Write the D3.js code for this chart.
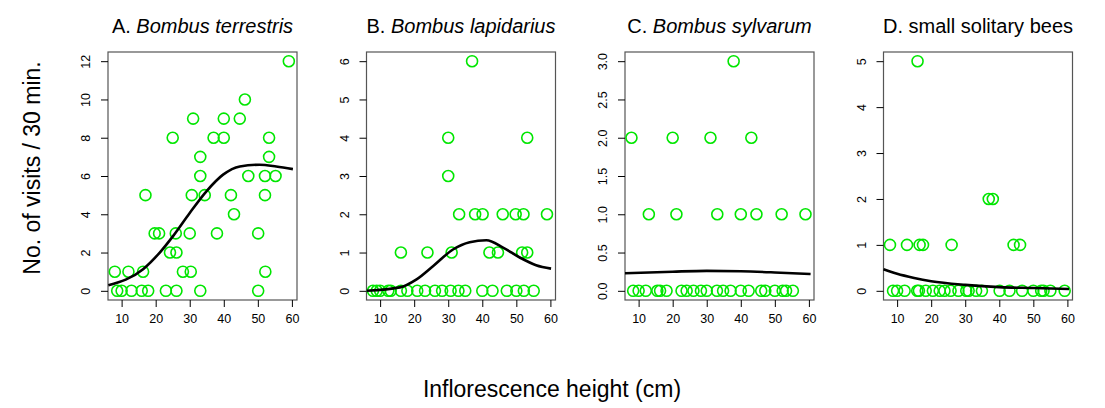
<!DOCTYPE html><html><head><meta charset="utf-8"><script src="https://cdn.jsdelivr.net/npm/d3@7"></script>
<style>body{margin:0;background:#fff}</style></head><body><svg id="c" width="1105" height="408"></svg>
<script>
const titles=[["A. ","Bombus terrestris"],["B. ","Bombus lapidarius"],["C. ","Bombus sylvarum"],["D. small solitary bees",""]];
const yMax=[12,6,3,5];
const yTicks=[[0,2,4,6,8,10,12],[0,1,2,3,4,5,6],[0,0.5,1,1.5,2,2.5,3],[0,1,2,3,4,5]];
const yFmt=["d","d",".1f","d"];
const xTicks=[10,20,30,40,50,60];
const aX=[8,12,16.3,28,30.3,52.2,8.7,10,12.9,15.9,17.8,23,26.1,33.1,50.1,17,19.7,21,24.2,26.1,25.9,30,25,30.6,31,33.1,33.1,34.4,37,38,40,40,42.1,43,44.7,46.2,47.2,50.1,52.1,52.1,53.3,53.3,55.2,59.1];
const aY=[1,1,1,1,1,1,0,0,0,0,0,0,0,0,0,5,3,3,2,2,3,3,8,5,9,7,6,5,8,3,8,9,5,4,9,10,6,3,5,6,7,8,6,12];
const bX=[7.9,9,10,12.4,13.1,16.1,18,20.9,23.2,26.1,28.2,30.7,33,35,40,43,47.2,50,52.2,55.1,16.1,23.9,31,42.1,44.6,51.7,53.2,33.2,37.9,40.1,46,49.8,52.1,59,30,30,53.2,37];
const bY=[0,0,0,0,0,0,0,0,0,0,0,0,0,0,0,0,0,0,0,0,1,1,1,1,1,1,1,2,2,2,2,2,2,2,3,4,4,6];
const cX=[8.4,10,12.1,15.5,16.3,18.2,22.6,24.1,26.1,28.3,30,33,34.8,37,40,42.3,46,47.2,50,52.3,53.3,55.3,13,21.1,33.1,40,44.6,52,59,7.9,20,31.1,43.1,37.9];
const cY=[0,0,0,0,0,0,0,0,0,0,0,0,0,0,0,0,0,0,0,0,0,0,1,1,1,1,1,1,1,2,2,2,2,3];
const dX=[8.8,10,12.2,15.9,16.4,18.4,20.5,22.5,23.9,25.7,28,30.3,31,33.2,34.9,40.1,43,46.7,50,52.3,53,55,59.2,7.9,12.9,16.6,17.6,26,44.2,46.1,36.9,38.1,16];
const dY=[0,0,0,0,0,0,0,0,0,0,0,0,0,0,0,0,0,0,0,0,0,0,0,1,1,1,1,1,1,1,2,2,5];
const aCx=[6.1,16.3,21.2,25.1,30,34.9,39.8,44.7,50.5,55.4,60.3],aCy=[0.29,1.13,2,2.86,4.07,5.2,6.07,6.5,6.59,6.5,6.36];
const bCx=[6.1,15.8,20.7,25.6,31.4,36.3,41.2,46.1,51,55.8,60.2],bCy=[0,0.09,0.3,0.65,1.08,1.27,1.32,1.13,0.87,0.67,0.58];
const cCx=[6,20,30,40,50,60.5],cCy=[0.23,0.25,0.26,0.255,0.24,0.22];
const dCx=[6,10,15,20,30,40,50,60.5],dCy=[0.47,0.37,0.28,0.21,0.13,0.08,0.06,0.04];
const P=[[aX,aY,aCx,aCy],[bX,bY,bCx,bCy],[cX,cY,cCx,cCy],[dX,dY,dCx,dCy]];
const svg=d3.select("#c");
const lefts=[108,366.5,625,883.5],W=189,pTop=52,pBot=300;
const ff="Liberation Sans, Arial, sans-serif";
P.forEach((p,i)=>{
 const g=svg.append("g");
 const x=d3.scaleLinear().domain([6,61.5]).range([lefts[i],lefts[i]+W]);
 const yr=yMax[i]*0.04;
 const y=d3.scaleLinear().domain([-yr,yMax[i]+yr]).range([pBot,pTop]);
 g.append("rect").attr("x",lefts[i]).attr("y",pTop).attr("width",W).attr("height",pBot-pTop).attr("fill","none").attr("stroke","#555").attr("stroke-width",1.2);
 const xa=g.append("g").attr("transform",`translate(0,${pBot})`).call(d3.axisBottom(x).tickValues(xTicks).tickSize(7).tickPadding(7));
 xa.select(".domain").remove();
 xa.selectAll("text").attr("font-family",ff).attr("font-size",12.5);
 const ya=g.append("g").attr("transform",`translate(${lefts[i]},0)`).call(d3.axisLeft(y).tickValues(yTicks[i]).tickSize(7).tickFormat(d3.format(yFmt[i])));
 ya.select(".domain").remove();
 ya.selectAll(".tick text").attr("x",null).attr("dy",null).attr("text-anchor","middle").attr("dominant-baseline","central")
    .attr("font-family",ff).attr("font-size",12.5).attr("transform","translate(-22,0) rotate(-90)");
 g.selectAll("circle").data(p[0]).join("circle").attr("cx",d=>x(d)).attr("cy",(d,j)=>y(p[1][j])).attr("r",5.5).attr("fill","none").attr("stroke","#00e600").attr("stroke-width",1.6);
 g.append("path").datum(p[2].map((v,j)=>[v,p[3][j]])).attr("d",d3.line().x(d=>x(d[0])).y(d=>y(d[1])).curve(d3.curveMonotoneX)).attr("fill","none").attr("stroke","#000").attr("stroke-width",2.6);
 const t=svg.append("text").attr("x",lefts[i]+W/2).attr("y",33).attr("text-anchor","middle").attr("font-family",ff).attr("font-size",20);
 t.append("tspan").text(titles[i][0]);
 if(titles[i][1]) t.append("tspan").attr("font-style","italic").text(titles[i][1]);
});
svg.append("text").attr("transform","translate(40,168) rotate(-90)").attr("text-anchor","middle").attr("font-family",ff).attr("font-size",23).text("No. of visits / 30 min.");
svg.append("text").attr("x",552).attr("y",397).attr("text-anchor","middle").attr("font-family",ff).attr("font-size",23).text("Inflorescence height (cm)");
</script></body></html>
